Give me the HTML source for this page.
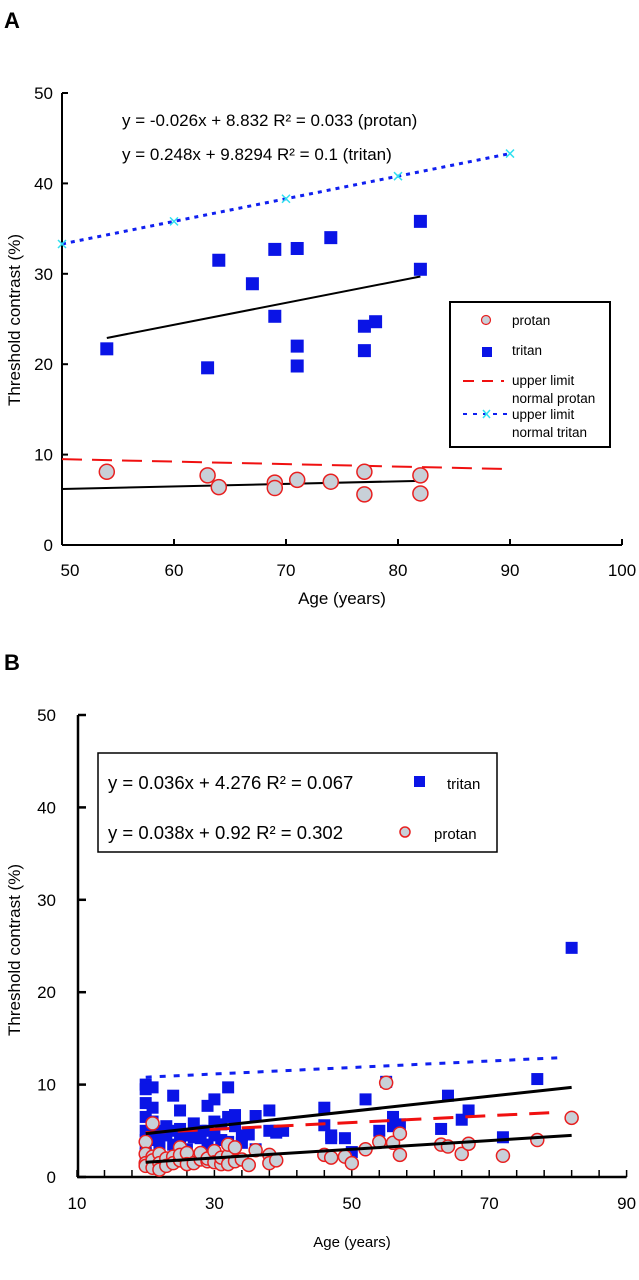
<!DOCTYPE html>
<html><head><meta charset="utf-8"><style>
html,body{margin:0;padding:0;background:#fff;}
svg{display:block;font-family:"Liberation Sans",sans-serif;}
</style></head><body>
<svg id="s" width="639" height="1280" viewBox="0 0 639 1280" xmlns="http://www.w3.org/2000/svg">
<text x="4" y="28" font-size="22" font-weight="bold">A</text>
<text x="4" y="670" font-size="22" font-weight="bold">B</text>
<g id="ga"></g>
<g id="gb"></g>
</svg>
<script>
// ---- Panel A data ----
const aTritanAge=[54,63,64,67,69,69,71,71,71,74,77,77,78,82,82];
const aTritanVal=[21.7,19.6,31.5,28.9,32.7,25.3,32.8,22,19.8,34,24.2,21.5,24.7,35.8,30.5];
const aProtanAge=[54,63,64,69,69,71,74,77,77,82,82];
const aProtanVal=[8.1,7.7,6.4,6.9,6.3,7.2,7,8.1,5.6,7.7,5.7];
const aNormTritanAge=[50,60,70,80,90];
const aNormTritanVal=[33.3,35.8,38.3,40.8,43.3];
const aNormProtanAge=[50,90];
const aNormProtanVal=[9.5,8.4];
const aFitTritanAge=[54,82];
const aFitTritanVal=[22.9,29.7];
const aFitProtanAge=[50,82];
const aFitProtanVal=[6.2,7.1];
const aXTicks=[50,60,70,80,90,100];
const aYTicks=[0,10,20,30,40,50];
// ---- Panel B data ----
const bTritanAge=[20,20,20,20,20,20,20,20,21,21,21,21,21,22,22,22,23,23,24,24,24,25,25,25,26,26,27,27,28,28,29,29,29,30,30,30,31,31,32,32,32,33,33,34,34,35,36,36,38,38,39,39,40,46,46,47,47,49,50,52,54,55,56,56,57,63,64,66,67,72,77,82];
const bTritanVal=[10,9.5,8,6.5,5,4,3,2.5,9.7,7.5,6,5.5,4,5,4.5,3.5,4.5,5.5,8.8,5,3.5,7.2,5.2,4,4.5,3,5.8,4.3,4.2,5,7.7,5,3.5,8.4,6,4.5,5.7,4,9.7,6.5,3.8,6.7,5.5,4.5,3.7,4.6,6.6,3,7.2,5,5,4.8,5,7.5,5.6,4.2,4.5,4.2,2.7,8.4,5,10.3,6.5,5.5,5.7,5.2,8.8,6.2,7.2,4.3,10.6,24.8];
const bProtanAge=[20,20,20,20,21,21,21,21,22,22,22,23,23,24,24,25,25,25,26,26,27,28,28,29,29,30,30,31,31,32,32,32,33,33,34,35,36,38,38,39,46,47,49,50,52,54,55,56,57,57,63,64,66,67,72,77,82];
const bProtanVal=[3.8,2.5,1.5,1.2,5.8,2.2,1.8,1,2.5,1.5,0.8,2,1.2,2.2,1.5,3.2,1.8,2.4,2.6,1.4,1.5,1.9,2.6,1.7,2,2.8,1.6,1.4,2.1,2.3,3.5,1.4,3.2,1.7,1.9,1.3,2.9,2.4,1.5,1.8,2.4,2.1,2.2,1.5,3,3.8,10.2,3.7,4.7,2.4,3.5,3.3,2.5,3.6,2.3,4,6.4];
const bNormTritanAge=[20,80];
const bNormTritanVal=[10.8,12.9];
const bNormProtanAge=[20,80];
const bNormProtanVal=[4.8,7];
const bFitTritanAge=[20,82];
const bFitTritanVal=[4.7,9.7];
const bFitProtanAge=[20,82];
const bFitProtanVal=[1.6,4.5];
const bXTicks=[10,30,50,70,90];
const bYTicks=[0,10,20,30,40,50];

const NS="http://www.w3.org/2000/svg";
function mk(parent,tag,attrs,text){const e=document.createElementNS(NS,tag);for(const k in attrs)e.setAttribute(k,attrs[k]);if(text!==undefined)e.textContent=text;parent.appendChild(e);return e;}

// ---------- Panel A ----------
const ga=document.getElementById('ga');
const axA=v=>62+(v-50)*11.2;
const ayA=v=>545-v*9.04;
let e;
e=mk(ga,'line',{x1:62,y1:ayA(50),x2:62,y2:ayA(0),stroke:'#000','stroke-width':2});

e=mk(ga,'line',{x1:62,y1:ayA(0),x2:axA(100),y2:ayA(0),stroke:'#000','stroke-width':2});

aYTicks.forEach(t=>{
  e=mk(ga,'line',{x1:62,y1:ayA(t),x2:68,y2:ayA(t),stroke:'#000','stroke-width':2});
  
  e=mk(ga,'text',{x:53,y:ayA(t)+6,'font-size':17,'text-anchor':'end'},String(t));
  
});
aXTicks.forEach(t=>{
  e=mk(ga,'line',{x1:axA(t),y1:ayA(0),x2:axA(t),y2:ayA(0)-6,stroke:'#000','stroke-width':2});
  
  e=mk(ga,'text',{x:axA(t)+(t===50?8:0),y:576,'font-size':17,'text-anchor':'middle'},String(t));
  
});
e=mk(ga,'text',{x:342,y:604,'font-size':17,'text-anchor':'middle'},'Age (years)');

e=mk(ga,'text',{x:0,y:0,'font-size':17,'text-anchor':'middle',transform:'translate(20,320) rotate(-90)'},'Threshold contrast (%)');

e=mk(ga,'text',{x:122,y:126,'font-size':17},'y = -0.026x + 8.832  R² = 0.033 (protan)');

e=mk(ga,'text',{x:122,y:160,'font-size':17},'y = 0.248x + 9.8294  R² = 0.1 (tritan)');

function poly(g,xs,ys,fx,fy,attrs,name){const p=xs.map((x,i)=>fx(x)+','+fy(ys[i])).join(' ');const el=mk(g,'polyline',Object.assign({points:p,fill:'none'},attrs));return el;}
poly(ga,aNormTritanAge,aNormTritanVal,axA,ayA,{stroke:'#1020f0','stroke-width':3,'stroke-dasharray':'4 5'},'a-upper-limit-tritan');
aNormTritanAge.forEach((x,i)=>{const cx=axA(x),cy=ayA(aNormTritanVal[i]);
  e=mk(ga,'path',{d:`M${cx-4},${cy-4}L${cx+4},${cy+4}M${cx-4},${cy+4}L${cx+4},${cy-4}`,stroke:'#30e0f0','stroke-width':1.5});
  });
poly(ga,aNormProtanAge,aNormProtanVal,axA,ayA,{stroke:'#f01010','stroke-width':2,'stroke-dasharray':'20 10'},'a-upper-limit-protan');
poly(ga,aFitTritanAge,aFitTritanVal,axA,ayA,{stroke:'#000','stroke-width':2},'a-tritan-fit-line');
poly(ga,aFitProtanAge,aFitProtanVal,axA,ayA,{stroke:'#000','stroke-width':2},'a-protan-fit-line');
aTritanAge.forEach((x,i)=>{e=mk(ga,'rect',{x:axA(x)-6.5,y:ayA(aTritanVal[i])-6.5,width:13,height:13,fill:'#0a14e6'});
  });
aProtanAge.forEach((x,i)=>{e=mk(ga,'circle',{cx:axA(x),cy:ayA(aProtanVal[i]),r:7.5,fill:'#c8d0d8',stroke:'#e82020','stroke-width':1.5});
  });
// legend A
const la=mk(ga,'g',{});

mk(la,'rect',{x:450,y:302,width:160,height:145,fill:'#fff',stroke:'#000','stroke-width':2});
mk(la,'circle',{cx:486,cy:320,r:4.5,fill:'#c8d0d8',stroke:'#e82020','stroke-width':1.2});
mk(la,'text',{x:512,y:325,'font-size':13.5},'protan');
mk(la,'rect',{x:482,y:347,width:10,height:10,fill:'#0a14e6'});
mk(la,'text',{x:512,y:355,'font-size':13.5},'tritan');
mk(la,'line',{x1:463,y1:381,x2:504,y2:381,stroke:'#f01010','stroke-width':2,'stroke-dasharray':'11 8'});
mk(la,'text',{x:512,y:385,'font-size':13.5},'upper limit');
mk(la,'text',{x:512,y:403,'font-size':13.5},'normal protan');
mk(la,'line',{x1:463,y1:414,x2:508,y2:414,stroke:'#1020f0','stroke-width':2,'stroke-dasharray':'4 6'});
mk(la,'path',{d:'M483,410L490,418M483,418L490,410',stroke:'#30e0f0','stroke-width':1.5});
mk(la,'text',{x:512,y:419,'font-size':13.5},'upper limit');
mk(la,'text',{x:512,y:437,'font-size':13.5},'normal tritan');

// ---------- Panel B ----------
const gb=document.getElementById('gb');
const axB=v=>77+(v-10)*6.87;
const ayB=v=>1177-v*9.24;
e=mk(gb,'line',{x1:78,y1:ayB(50),x2:78,y2:ayB(0),stroke:'#000','stroke-width':2.5});

e=mk(gb,'line',{x1:77,y1:ayB(0),x2:axB(90),y2:ayB(0),stroke:'#000','stroke-width':2.5});

bYTicks.forEach(t=>{
  e=mk(gb,'line',{x1:78,y1:ayB(t),x2:86,y2:ayB(t),stroke:'#000','stroke-width':2.5});
  
  e=mk(gb,'text',{x:56,y:ayB(t)+6,'font-size':17,'text-anchor':'end'},String(t));
  
});
for(let t=10;t<=90;t+=4){
  e=mk(gb,'line',{x1:axB(t),y1:ayB(0),x2:axB(t),y2:ayB(0)-7,stroke:'#000','stroke-width':1.5});
  
}
bXTicks.forEach(t=>{
  e=mk(gb,'text',{x:axB(t),y:1209,'font-size':17,'text-anchor':'middle'},String(t));
  
});
e=mk(gb,'text',{x:352,y:1247,'font-size':15,'text-anchor':'middle'},'Age (years)');

e=mk(gb,'text',{x:0,y:0,'font-size':17,'text-anchor':'middle',transform:'translate(20,950) rotate(-90)'},'Threshold contrast  (%)');

poly(gb,bNormTritanAge,bNormTritanVal,axB,ayB,{stroke:'#1020f0','stroke-width':3,'stroke-dasharray':'6 8'},'b-upper-limit-tritan');
bTritanAge.forEach((x,i)=>{e=mk(gb,'rect',{x:axB(x)-6,y:ayB(bTritanVal[i])-6,width:12,height:12,fill:'#0a14e6'});
  });
poly(gb,bNormProtanAge,bNormProtanVal,axB,ayB,{stroke:'#f01010','stroke-width':3,'stroke-dasharray':'20 12'},'b-upper-limit-protan');
bProtanAge.forEach((x,i)=>{e=mk(gb,'circle',{cx:axB(x),cy:ayB(bProtanVal[i]),r:6.5,fill:'#c8d0d8',stroke:'#e82020','stroke-width':1.5});
  });
poly(gb,bFitTritanAge,bFitTritanVal,axB,ayB,{stroke:'#000','stroke-width':3},'b-tritan-fit-line');
poly(gb,bFitProtanAge,bFitProtanVal,axB,ayB,{stroke:'#000','stroke-width':3},'b-protan-fit-line');
// legend B
const lb=mk(gb,'g',{});

mk(lb,'rect',{x:98,y:753,width:399,height:99,fill:'#fff',stroke:'#000','stroke-width':1.5});
mk(lb,'text',{x:108,y:789,'font-size':18.5},'y = 0.036x + 4.276  R² = 0.067');
mk(lb,'rect',{x:414,y:776,width:11,height:11,fill:'#0a14e6'});
mk(lb,'text',{x:447,y:789,'font-size':15},'tritan');
mk(lb,'text',{x:108,y:839,'font-size':18.5},'y = 0.038x + 0.92  R² = 0.302');
mk(lb,'circle',{cx:405,cy:832,r:5,fill:'#c8d0d8',stroke:'#e82020','stroke-width':1.5});
mk(lb,'text',{x:434,y:839,'font-size':15},'protan');
</script>
</body></html>
